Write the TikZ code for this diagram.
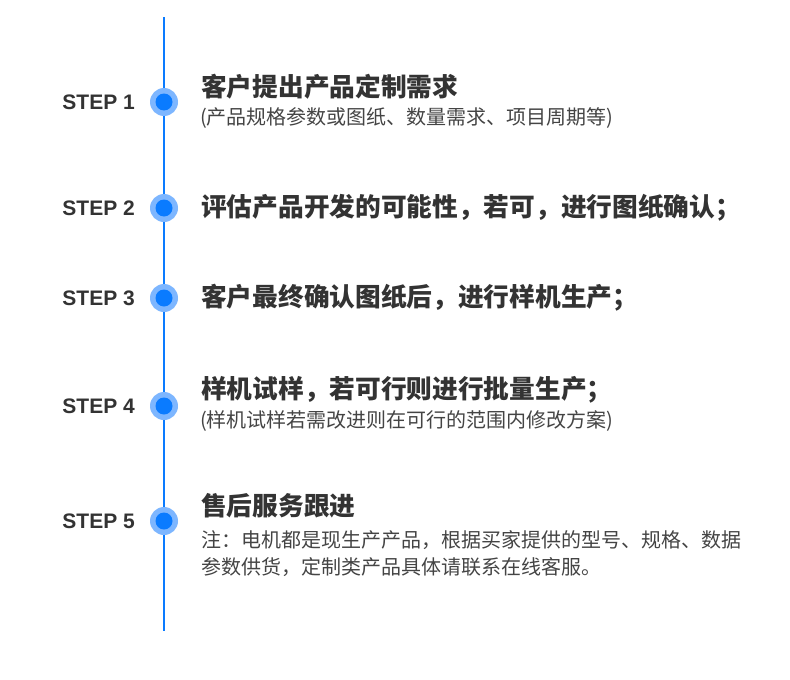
\documentclass[tikz,border=0pt]{standalone}
\usepackage{fontspec}
\setmainfont{Liberation Sans}
\newfontfamily\cjk{Noto Sans CJK SC}
\usepackage{tikz}
\definecolor{lineblue}{HTML}{0A7BFF}
\definecolor{ringblue}{HTML}{7DB6FF}
\definecolor{textdark}{HTML}{333333}
\definecolor{textgray}{HTML}{444444}

\begin{document}
\begin{tikzpicture}[x=1pt,y=-1pt,
    steplabel/.style={anchor=east,inner sep=0pt,text=textdark,font=\fontsize{21}{24}\selectfont\bfseries},
    title/.style={anchor=west,inner sep=0pt,text=textdark,font=\fontsize{25.7}{28}\selectfont\cjk\bfseries},
    note/.style={anchor=west,inner sep=0pt,text=textgray,align=left,font=\fontsize{20}{27}\selectfont\cjk},
    ring/.style={circle,fill=ringblue,minimum size=28pt,inner sep=0pt},
    dot/.style={circle,fill=lineblue,minimum size=17pt,inner sep=0pt}]

        \useasboundingbox (0,0) rectangle (790,680);

        % Time line
        \coordinate (top) at (164,17);
        \coordinate (bot) at (164,631);
        \draw[lineblue,line width=2pt] (top) -- (bot);

        % Step 1
        \node[ring] (r1) at (164,102) {};
        \node[dot] (d1) at (r1) {};
        \node[steplabel] (s1) at (135,102) {STEP 1};
        \node[title] (t1) at (201,87) {客户提出产品定制需求};
        \node[note] (n1) at (200,118) {(产品规格参数或图纸、数量需求、项目周期等)};

        % Step 2
        \node[ring] (r2) at (164,208) {};
        \node[dot] (d2) at (r2) {};
        \node[steplabel] (s2) at (135,208) {STEP 2};
        \node[title] (t2) at (201,208) {评估产品开发的可能性，若可，进行图纸确认；};

        % Step 3
        \node[ring] (r3) at (164,298) {};
        \node[dot] (d3) at (r3) {};
        \node[steplabel] (s3) at (135,298) {STEP 3};
        \node[title] (t3) at (201,298) {客户最终确认图纸后，进行样机生产；};

        % Step 4
        \node[ring] (r4) at (164,406) {};
        \node[dot] (d4) at (r4) {};
        \node[steplabel] (s4) at (135,406) {STEP 4};
        \node[title] (t4) at (201,390) {样机试样，若可行则进行批量生产；};
        \node[note] (n4) at (200,421) {(样机试样若需改进则在可行的范围内修改方案)};

        % Step 5
        \node[ring] (r5) at (164,521) {};
        \node[dot] (d5) at (r5) {};
        \node[steplabel] (s5) at (135,521) {STEP 5};
        \node[title] (t5) at (201,506) {售后服务跟进};
        \node[note] (n5) at (201,554) {注：电机都是现生产产品，根据买家提供的型号、规格、数据\\参数供货，定制类产品具体请联系在线客服。};

    \end{tikzpicture}
\end{document}
